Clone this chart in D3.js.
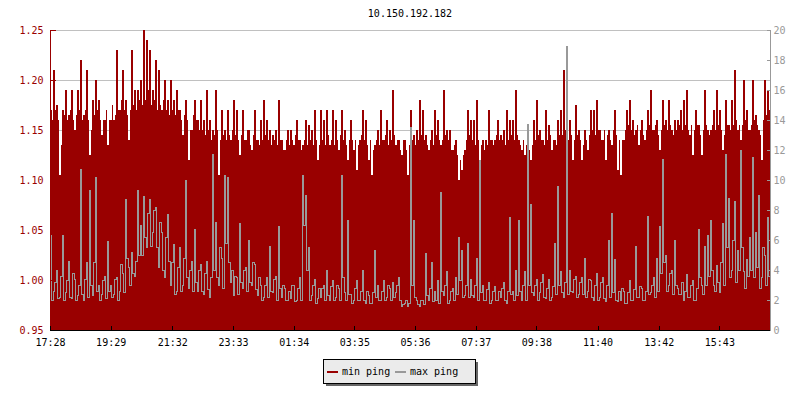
<!DOCTYPE html>
<html><head><meta charset="utf-8">
<script src="https://cdn.jsdelivr.net/npm/d3@7"></script>
<style>body{margin:0;background:#fff}</style>
</head><body><svg id="c" width="800" height="400"></svg>
<script>
const chartTitle = "10.150.192.182";
const seriesNames = ["min ping", "max ping"];
const timeLabels = ["17:28","19:29","21:32","23:33","01:34","03:35","05:36","07:37","09:38","11:40","13:42","15:43"];
const spanMinutes = 1436;
const leftTicks = [0.95, 1.00, 1.05, 1.10, 1.15, 1.20, 1.25];
const rightTicks = [0, 2, 4, 6, 8, 10, 12, 14, 16, 18, 20];

const minPing = [
1.17,1.16,1.21,1.17,1.175,1.16,1.105,1.135,1.17,1.165,1.19,1.16,1.165,1.17,1.19,1.16,1.15,1.165,1.19,1.17,
1.22,1.16,1.165,1.17,1.21,1.16,1.125,1.15,1.18,1.165,1.20,1.17,1.18,1.16,1.145,1.16,1.16,1.17,1.135,1.16,
1.16,1.175,1.16,1.165,1.23,1.17,1.17,1.18,1.21,1.17,1.18,1.165,1.14,1.17,1.23,1.175,1.19,1.17,1.19,1.18,
1.20,1.175,1.25,1.18,1.24,1.19,1.23,1.175,1.19,1.18,1.22,1.17,1.21,1.175,1.17,1.18,1.20,1.17,1.18,1.165,
1.20,1.17,1.18,1.165,1.19,1.17,1.17,1.16,1.145,1.165,1.18,1.16,1.12,1.15,1.15,1.165,1.18,1.16,1.16,1.15,
1.18,1.15,1.16,1.145,1.19,1.15,1.16,1.14,1.15,1.145,1.19,1.15,1.105,1.14,1.17,1.145,1.15,1.14,1.17,1.145,
1.14,1.15,1.18,1.145,1.17,1.14,1.125,1.145,1.17,1.14,1.14,1.15,1.15,1.135,1.13,1.145,1.17,1.14,1.14,1.135,
1.16,1.14,1.18,1.145,1.16,1.14,1.15,1.135,1.145,1.14,1.15,1.135,1.18,1.14,1.14,1.13,1.13,1.14,1.15,1.135,
1.15,1.14,1.135,1.145,1.16,1.14,1.14,1.13,1.135,1.14,1.16,1.135,1.155,1.14,1.15,1.135,1.17,1.14,1.12,1.135,
1.17,1.14,1.16,1.135,1.17,1.145,1.135,1.14,1.17,1.135,1.16,1.14,1.13,1.145,1.17,1.14,1.15,1.135,1.12,1.14,
1.16,1.14,1.13,1.14,1.11,1.135,1.14,1.145,1.17,1.14,1.16,1.135,1.12,1.14,1.105,1.13,1.135,1.14,1.15,1.135,
1.17,1.14,1.14,1.145,1.16,1.135,1.15,1.14,1.19,1.145,1.135,1.14,1.14,1.13,1.125,1.14,1.14,1.13,1.105,1.135,
1.17,1.14,1.145,1.135,1.15,1.14,1.18,1.145,1.17,1.14,1.145,1.135,1.13,1.14,1.15,1.135,1.17,1.145,1.16,1.14,
1.135,1.14,1.19,1.145,1.15,1.14,1.15,1.13,1.13,1.135,1.14,1.125,1.10,1.12,1.11,1.125,1.13,1.14,1.17,1.145,
1.16,1.14,1.16,1.135,1.18,1.14,1.12,1.135,1.14,1.13,1.14,1.135,1.17,1.14,1.14,1.135,1.14,1.145,1.16,1.14,
1.145,1.14,1.15,1.135,1.17,1.14,1.16,1.145,1.16,1.14,1.19,1.145,1.14,1.135,1.13,1.14,1.125,1.135,1.14,1.13,
1.12,1.135,1.16,1.14,1.18,1.145,1.15,1.14,1.14,1.135,1.17,1.14,1.155,1.145,1.13,1.14,1.14,1.135,1.16,1.145,
1.17,1.145,1.21,1.15,1.15,1.14,1.16,1.145,1.12,1.14,1.175,1.145,1.15,1.14,1.12,1.135,1.15,1.14,1.13,1.145,
1.17,1.15,1.17,1.145,1.18,1.15,1.15,1.14,1.14,1.15,1.12,1.145,1.15,1.14,1.135,1.15,1.17,1.145,1.11,1.14,
1.105,1.14,1.14,1.15,1.17,1.155,1.18,1.15,1.16,1.145,1.15,1.155,1.135,1.15,1.16,1.145,1.14,1.15,1.17,1.155,
1.19,1.15,1.15,1.155,1.16,1.145,1.13,1.15,1.18,1.155,1.16,1.15,1.18,1.155,1.15,1.145,1.16,1.15,1.16,1.155,
1.17,1.15,1.18,1.155,1.19,1.15,1.145,1.155,1.125,1.15,1.17,1.155,1.155,1.145,1.125,1.15,1.19,1.155,1.15,1.145,
1.15,1.155,1.17,1.15,1.19,1.155,1.17,1.15,1.13,1.145,1.18,1.155,1.155,1.15,1.18,1.155,1.21,1.16,1.15,1.155,
1.14,1.155,1.20,1.16,1.17,1.15,1.15,1.155,1.20,1.16,1.165,1.155,1.15,1.145,1.12,1.16,1.20,1.165,1.19,1.17
];

const maxPing = [
6.3,2.0,2.6,3.2,4.0,2.1,2.2,3.6,6.3,2.0,2.5,3.3,4.6,2.2,2.1,3.8,3.4,2.0,2.3,3.0,
10.7,2.4,2.0,3.4,4.5,2.2,9.3,3.0,2.3,4.5,10.2,2.6,3.0,2.0,2.4,3.3,3.6,2.1,5.9,2.6,
3.0,2.2,2.4,3.4,3.5,2.0,2.6,4.4,3.8,2.5,8.7,4.8,4.2,3.0,5.2,3.8,3.6,4.6,9.3,5.0,
7.0,5.0,8.9,6.2,5.5,7.8,8.7,5.6,6.5,8.0,8.2,5.5,4.2,7.2,6.5,4.0,3.5,6.2,7.7,4.6,
3.0,4.5,5.7,2.4,2.6,4.2,5.5,2.6,3.0,4.8,10.0,3.5,2.8,4.0,4.6,2.6,6.7,3.2,2.6,4.0,
4.4,2.6,2.4,3.8,4.6,2.7,2.2,3.5,11.7,4.0,7.2,3.5,3.0,5.5,4.8,2.8,10.3,5.8,10.2,4.5,
3.2,4.0,2.3,3.6,3.5,2.4,7.1,3.2,2.8,4.0,4.2,2.6,6.0,3.2,3.0,4.5,4.4,2.7,2.3,3.5,
3.0,2.0,2.2,3.0,3.5,2.2,5.6,2.6,2.5,3.4,3.6,2.0,6.9,2.8,2.2,3.0,2.8,2.0,2.0,2.6,
2.1,3.0,3.0,1.9,2.0,2.8,3.5,2.0,10.3,7.0,9.0,4.0,5.5,2.0,2.3,3.0,3.4,1.8,2.1,2.8,
2.2,2.8,3.0,2.0,4.0,2.3,2.0,2.9,3.3,2.0,2.2,3.0,2.8,2.0,10.3,3.5,2.5,2.0,7.3,2.4,
2.4,1.8,2.0,2.8,3.3,2.0,2.0,2.6,4.0,2.0,1.8,2.6,2.3,1.8,1.8,2.5,5.3,2.2,3.0,2.0,
2.0,2.6,3.3,2.0,2.2,3.0,2.8,2.0,3.2,2.2,2.5,3.0,3.5,2.0,1.6,1.7,1.8,2.0,1.6,1.8,
13.5,3.0,7.3,2.2,2.0,1.7,1.6,2.0,2.0,1.7,5.1,2.3,2.0,2.8,4.5,1.9,2.6,2.0,3.3,1.8,
9.2,2.6,2.3,3.0,3.9,1.8,2.0,2.6,2.8,2.0,3.5,2.4,6.2,3.3,5.3,2.2,2.3,3.0,5.8,2.2,
3.4,2.3,2.2,3.0,4.8,2.0,11.3,2.5,3.0,2.0,2.0,2.7,3.2,1.8,2.0,2.6,2.9,2.0,2.0,2.6,
2.2,2.8,3.2,2.0,1.8,2.6,7.5,2.4,2.6,2.0,4.0,2.3,7.3,2.6,2.0,3.0,3.9,2.0,13.7,3.0,
8.4,2.5,2.3,3.0,3.4,2.0,2.5,3.2,3.7,2.2,2.1,2.8,3.4,2.0,2.2,2.9,5.8,2.4,9.6,3.0,
3.9,2.5,2.2,3.2,18.9,2.4,4.0,2.6,2.5,3.4,3.6,2.2,2.4,3.2,3.5,2.4,4.8,2.2,2.6,3.4,
3.3,2.2,2.0,3.0,3.8,2.0,2.2,3.2,3.5,2.1,1.9,3.0,6.0,2.2,7.8,2.5,4.7,2.0,1.9,2.6,
2.0,2.8,2.6,1.8,1.8,2.5,3.3,2.0,2.0,2.7,5.6,2.2,2.2,2.9,2.8,2.0,2.0,2.6,7.6,2.4,
2.5,3.0,3.5,2.2,4.8,2.6,6.9,3.8,11.4,4.5,5.0,2.6,3.0,3.8,4.0,2.4,6.0,3.0,2.8,2.4,
2.4,3.2,2.0,2.6,3.7,2.2,2.2,3.0,3.3,2.0,2.0,2.8,6.7,3.5,3.0,2.4,5.6,3.0,6.3,3.6,
7.3,4.0,3.0,2.6,4.3,3.2,2.5,4.5,7.1,3.0,11.7,5.5,8.8,3.5,4.0,6.0,8.6,3.2,5.3,4.0,
12.0,5.5,3.9,2.8,4.7,3.6,6.2,4.0,11.5,3.5,6.5,4.2,9.0,2.8,3.5,5.5,5.0,3.0,7.5,3.6
];

const RED = "#990000", GRAY = "#999999", GRID = "#c0c0c0";
const FONT = "'DejaVu Sans Mono', monospace";

const svg = d3.select("#c");
const L = 50, R = 770, T = 30, B = 330;
const x = d3.scaleLinear().domain([0, spanMinutes]).range([L, R]);
const yL = d3.scaleLinear().domain([0.95, 1.25]).range([B, T]);
const yR = d3.scaleLinear().domain([0, 20]).range([B, T]);

const toMin = s => { const [h, m] = s.split(":").map(Number); const [h0, m0] = timeLabels[0].split(":").map(Number);
  return ((h * 60 + m) - (h0 * 60 + m0) + 1440) % 1440; };

const series = arr => { const st = spanMinutes / arr.length; const d = arr.map((v, i) => [i * st, v]);
  d.push([spanMinutes, arr[arr.length - 1]]); return d; };
const minData = series(minPing), maxData = series(maxPing);

// title
svg.append("text").attr("x", 410).attr("y", 17).attr("text-anchor", "middle")
  .attr("font-family", FONT).attr("font-size", 10).attr("fill", "#000").text(chartTitle);

// grid
svg.append("g").selectAll("line").data(leftTicks).join("line")
  .attr("x1", L).attr("x2", R).attr("y1", d => Math.round(yL(d)) + 0.5).attr("y2", d => Math.round(yL(d)) + 0.5)
  .attr("stroke", GRID).attr("stroke-width", 1);

// red area
svg.append("path").datum(minData)
  .attr("d", d3.area().curve(d3.curveStepAfter).x(d => x(d[0])).y0(B).y1(d => yL(d[1])))
  .attr("fill", RED).attr("shape-rendering", "crispEdges");

// gray line
svg.append("path").datum(maxData)
  .attr("d", d3.line().curve(d3.curveStepAfter).x(d => x(d[0])).y(d => yR(d[1])))
  .attr("fill", "none").attr("stroke", GRAY).attr("stroke-width", 1).attr("shape-rendering", "crispEdges");

// left axis
const gl = svg.append("g").attr("transform", `translate(${L + 0.5},0)`);
gl.call(d3.axisLeft(yL).tickValues(d3.range(95, 126).map(v => v / 100)).tickSize(-3).tickFormat(""));
gl.call(d3.axisLeft(yL).tickValues(leftTicks).tickSize(-5).tickPadding(7).tickFormat(d3.format(".2f")));
gl.selectAll("path,line").attr("stroke", RED).attr("shape-rendering", "crispEdges");
gl.selectAll("text").attr("fill", RED).attr("font-family", FONT).attr("font-size", 10);
gl.select(".domain").attr("d", `M0,${T}V${B}`);

// right axis
const gr = svg.append("g").attr("transform", `translate(${R + 0.5},0)`);
gr.call(d3.axisRight(yR).tickValues(d3.range(1, 20, 2)).tickSize(-3).tickFormat(""));
gr.call(d3.axisRight(yR).tickValues(rightTicks).tickSize(-4).tickPadding(3).tickFormat(d3.format("d")));
gr.selectAll("path,line").attr("stroke", GRAY).attr("shape-rendering", "crispEdges");
gr.selectAll("text").attr("fill", GRAY).attr("font-family", FONT).attr("font-size", 10);
gr.select(".domain").attr("d", `M0,${T}V${B}`);

// bottom axis
const gb = svg.append("g").attr("transform", `translate(0,${B + 0.5})`);
gb.call(d3.axisBottom(x).tickValues(timeLabels.map(toMin)).tickSize(-5).tickPadding(8)
  .tickFormat((d, i) => timeLabels[i]));
gb.selectAll("path,line").attr("stroke", "#000").attr("shape-rendering", "crispEdges");
gb.selectAll("text").attr("fill", "#000").attr("font-family", FONT).attr("font-size", 10);
gb.select(".domain").attr("d", `M${L},0H${R}`);

// legend
const lg = svg.append("g");
lg.append("rect").attr("x", 326).attr("y", 362).attr("width", 152).attr("height", 24).attr("fill", "#666");
lg.append("rect").attr("x", 323.5).attr("y", 359.5).attr("width", 152).attr("height", 24)
  .attr("fill", "#ebebeb").attr("stroke", "#000").attr("stroke-width", 1);
const items = [{ n: seriesNames[0], c: RED, x: 327 }, { n: seriesNames[1], c: GRAY, x: 395 }];
items.forEach(it => {
  lg.append("rect").attr("x", it.x).attr("y", 371).attr("width", 11).attr("height", 2).attr("fill", it.c);
  lg.append("text").attr("x", it.x + 15).attr("y", 375).attr("font-family", FONT).attr("font-size", 10)
    .attr("fill", "#000").text(it.n);
});
</script></body></html>
